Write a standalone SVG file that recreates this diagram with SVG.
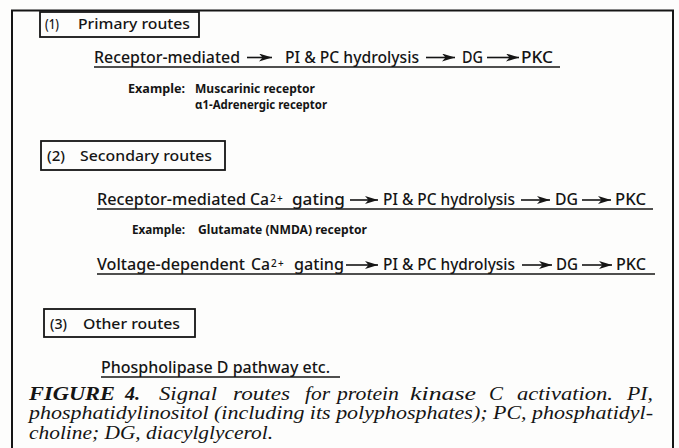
<svg xmlns="http://www.w3.org/2000/svg" width="679" height="448" viewBox="0 0 679 448">
<defs>
<marker id="ah" markerUnits="userSpaceOnUse" viewBox="0 0 13 8" refX="13" refY="4" markerWidth="13" markerHeight="8" orient="auto"><path d="M0,0 L13,4 L0,8 L3.5,4 Z" fill="#151515"/></marker>
</defs>
<style>
.s{font-family:"Noto Sans","Liberation Sans",sans-serif;fill:#151515}
.r{font-size:16px;font-weight:500}
.h{font-size:15px;font-weight:500}
.e{font-size:12px;font-weight:bold}
.sup{font-size:10px;font-weight:500}
.c{font-family:"Liberation Serif","Times New Roman",serif;font-style:italic;font-size:18.5px;fill:#151515}
.b{font-weight:bold}
.box{fill:none;stroke:#151515;stroke-width:1.8}
.ul{stroke:#151515;stroke-width:1.6}
.arr{stroke:#151515;stroke-width:1.6;fill:none;marker-end:url(#ah)}
</style>
<rect width="679" height="448" fill="#fdfdfc"/>
<g id="frame"><path d="M12,452 V10.5 H673 V452" fill="none" stroke="#151515" stroke-width="2"/></g>

<g id="heading-primary">
<rect class="box" x="40" y="12" width="159" height="25"/>
<text class="s h" x="45" y="28.5" textLength="14" lengthAdjust="spacingAndGlyphs">(1)</text>
<text class="s h" x="78" y="28.5" textLength="112" lengthAdjust="spacingAndGlyphs">Primary routes</text>
</g>

<g id="route-primary">
<text class="s r" x="94" y="62.5" textLength="146" lengthAdjust="spacingAndGlyphs">Receptor-mediated</text>
<text class="s r" x="285" y="62.5" textLength="134" lengthAdjust="spacingAndGlyphs">PI &amp; PC hydrolysis</text>
<text class="s r" x="462" y="62.5" textLength="21" lengthAdjust="spacingAndGlyphs">DG</text>
<text class="s r" x="521" y="62.5" textLength="32" lengthAdjust="spacingAndGlyphs">PKC</text>
<line class="ul" x1="94" y1="67" x2="560" y2="67"/>
</g>

<g id="example-primary">
<text class="s e" x="128" y="93" textLength="57" lengthAdjust="spacingAndGlyphs">Example:</text>
<text class="s e" x="195" y="93" textLength="120" lengthAdjust="spacingAndGlyphs">Muscarinic receptor</text>
<text class="s e" x="195" y="109" textLength="132" lengthAdjust="spacingAndGlyphs">α1-Adrenergic receptor</text>
</g>

<g id="heading-secondary">
<rect class="box" x="41" y="141" width="184" height="29"/>
<text class="s h" x="47" y="161" textLength="18" lengthAdjust="spacingAndGlyphs">(2)</text>
<text class="s h" x="80" y="161" textLength="132" lengthAdjust="spacingAndGlyphs">Secondary routes</text>
</g>

<g id="route-receptor-ca">
<text class="s r" x="97" y="205" textLength="149" lengthAdjust="spacingAndGlyphs">Receptor-mediated</text>
<text class="s r" x="250" y="205" textLength="19" lengthAdjust="spacingAndGlyphs">Ca</text>
<text class="s sup" x="270" y="202">2</text>
<text class="s sup" x="277" y="202">+</text>
<text class="s r" x="292" y="205" textLength="53" lengthAdjust="spacingAndGlyphs">gating</text>
<text class="s r" x="383" y="205" textLength="132" lengthAdjust="spacingAndGlyphs">PI &amp; PC hydrolysis</text>
<text class="s r" x="555" y="205" textLength="23" lengthAdjust="spacingAndGlyphs">DG</text>
<text class="s r" x="615" y="205" textLength="31" lengthAdjust="spacingAndGlyphs">PKC</text>
<line class="ul" x1="97" y1="209" x2="653" y2="209"/>
</g>

<g id="example-secondary">
<text class="s e" x="132" y="234" textLength="53" lengthAdjust="spacingAndGlyphs">Example:</text>
<text class="s e" x="198" y="234" textLength="169" lengthAdjust="spacingAndGlyphs">Glutamate (NMDA) receptor</text>
</g>

<g id="route-voltage-ca">
<text class="s r" x="97" y="270" textLength="148" lengthAdjust="spacingAndGlyphs">Voltage-dependent</text>
<text class="s r" x="251" y="270" textLength="19" lengthAdjust="spacingAndGlyphs">Ca</text>
<text class="s sup" x="271" y="267">2</text>
<text class="s sup" x="278" y="267">+</text>
<text class="s r" x="294" y="270" textLength="50" lengthAdjust="spacingAndGlyphs">gating</text>
<text class="s r" x="383" y="270" textLength="132" lengthAdjust="spacingAndGlyphs">PI &amp; PC hydrolysis</text>
<text class="s r" x="556" y="270" textLength="22" lengthAdjust="spacingAndGlyphs">DG</text>
<text class="s r" x="616" y="270" textLength="30" lengthAdjust="spacingAndGlyphs">PKC</text>
<line class="ul" x1="97" y1="274" x2="655" y2="274"/>
</g>

<g id="heading-other">
<rect class="box" x="44" y="309" width="151" height="28"/>
<text class="s h" x="50" y="329" textLength="17" lengthAdjust="spacingAndGlyphs">(3)</text>
<text class="s h" x="83" y="329" textLength="97" lengthAdjust="spacingAndGlyphs">Other routes</text>
</g>

<g id="route-other">
<text class="s r" x="101" y="373" textLength="229" lengthAdjust="spacingAndGlyphs">Phospholipase D pathway etc.</text>
<line class="ul" x1="101" y1="377" x2="340" y2="377"/>
</g>

<g id="connectors">
<line class="arr" x1="247" y1="57.5" x2="272" y2="57.5"/>
<line class="arr" x1="426" y1="57.5" x2="455" y2="57.5"/>
<line class="arr" x1="487" y1="57.5" x2="519" y2="57.5"/>
<line class="arr" x1="350" y1="200" x2="378" y2="200"/>
<line class="arr" x1="521" y1="200" x2="550" y2="200"/>
<line class="arr" x1="582" y1="200" x2="611" y2="200"/>
<line class="arr" x1="346" y1="265" x2="378" y2="265"/>
<line class="arr" x1="522" y1="265" x2="552" y2="265"/>
<line class="arr" x1="582" y1="265" x2="612" y2="265"/>
</g>

<g id="caption">
<text class="c b" x="29" y="400" textLength="86" lengthAdjust="spacingAndGlyphs">FIGURE</text>
<text class="c b" x="125" y="400" textLength="15" lengthAdjust="spacingAndGlyphs">4.</text>
<text class="c" x="159" y="400" textLength="58" lengthAdjust="spacingAndGlyphs">Signal</text>
<text class="c" x="233" y="400" textLength="57" lengthAdjust="spacingAndGlyphs">routes</text>
<text class="c" x="305" y="400" textLength="25" lengthAdjust="spacingAndGlyphs">for</text>
<text class="c" x="337" y="400" textLength="62" lengthAdjust="spacingAndGlyphs">protein</text>
<text class="c" x="410" y="400" textLength="66" lengthAdjust="spacingAndGlyphs">kinase</text>
<text class="c" x="489" y="400" textLength="14" lengthAdjust="spacingAndGlyphs">C</text>
<text class="c" x="517" y="400" textLength="96" lengthAdjust="spacingAndGlyphs">activation.</text>
<text class="c" x="627" y="400" textLength="26" lengthAdjust="spacingAndGlyphs">PI,</text>
<text class="c" x="29" y="419" textLength="624" lengthAdjust="spacingAndGlyphs">phosphatidylinositol (including its polyphosphates); PC, phosphatidyl-</text>
<text class="c" x="29" y="439" textLength="244" lengthAdjust="spacingAndGlyphs">choline; DG, diacylglycerol.</text>
</g>
</svg>
